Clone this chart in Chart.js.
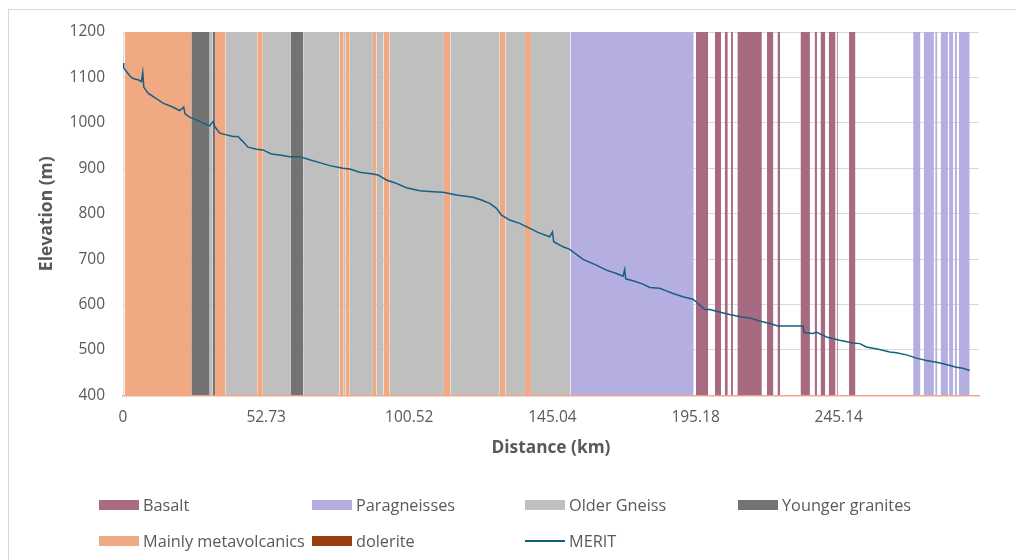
<!DOCTYPE html>
<html>
<head>
<meta charset="utf-8">
<title>Elevation profile with geology</title>
<script src="https://cdn.jsdelivr.net/npm/chart.js@4.4.1/dist/chart.umd.min.js"></script>
<style>
  html, body { margin: 0; padding: 0; background: #ffffff; }
  #wrap { position: relative; width: 1016px; height: 560px; overflow: hidden; font-family: "Open Sans", sans-serif; }
  #frame { position: absolute; left: 8px; top: 9px; width: 1100px; height: 700px; border: 1px solid #d9d9d9; box-sizing: border-box; }
  #chart { position: absolute; left: 0; top: 0; }
  .item { position: absolute; height: 20px; line-height: 20px; font-size: 16.3px; color: #595959; white-space: nowrap; }
  .sw { position: absolute; left: 0; top: 5px; width: 40px; height: 10px; }
  .ln { position: absolute; left: 0; top: 9px; width: 40px; height: 2px; }
  .tx { position: absolute; left: 44px; top: 0; }
</style>
</head>
<body>
<div id="wrap">
  <div id="frame"></div>
  <canvas id="chart" width="1016" height="560"></canvas>
  <div id="legend"></div>
</div>
<script>
// Distance axis: profile samples, labelled every 100 samples with distance in km
const xTickLabels = ['0', '52.73', '100.52', '145.04', '195.18', '245.14'];
const tickStep = 100;
const xMax = 598;

// Elevation axis (m)
const yMin = 400;
const yMax = 1200;
const yStep = 100;

// Geological units along the profile: [start sample, end sample]
const basalt = [[400.3, 408.8], [413.5, 417.8], [420.4, 422.5], [424.7, 426.1], [429.2, 446.3],
  [449.9, 454.4], [457.2, 459.1], [473.3, 479.9], [483.2, 484.8], [487.3, 490.6],
  [493.0, 497.8], [498.7, 499.4], [507.2, 511.7]];
const paragneisses = [[312.6, 398.7], [552.0, 557.1], [559.4, 566.5], [567.4, 568.9],
  [571.2, 576.3], [577.1, 580.0], [581.0, 582.6], [584.0, 591.5]];
const olderGneiss = [[60.6, 62.5], [71.7, 93.8], [97.7, 117.3], [126.1, 151.3], [154.2, 155.4],
  [158.4, 174.6], [177.2, 182.0], [186.3, 224.2], [228.7, 263.2], [267.2, 280.8], [285.0, 312.3]];
const youngerGranites = [[47.7, 60.6], [62.5, 64.3], [117.3, 126.1]];
const metavolcanics = [[1.2, 47.7], [64.3, 71.7], [93.8, 97.7], [151.3, 154.2], [155.4, 158.4],
  [174.6, 177.2], [182.0, 186.3], [224.2, 228.7], [263.2, 267.2], [280.8, 285.0]];
const dolerite = [];

// MERIT DEM elevation profile
const meritSample = [0, 0.5, 4.7, 7.0, 10.5, 12.9, 13.8, 14.5, 17.5, 23.3, 27.9, 33.8, 39.6, 42.4, 43.3,
  46.6, 51.3, 55.9, 60.6, 62.9, 64.1, 67.6, 72.2, 76.8, 80.3, 83.8, 87.3, 93.2, 97.8, 100.2,
  103.7, 109.5, 116.5, 123.4, 130.4, 137.4, 144.4, 153.7, 158.4, 165.4, 174.7, 178.1, 184.0,
  189.8, 198.0, 207.3, 216.6, 223.6, 232.9, 244.5, 250.4, 256.2, 260.9, 264.4, 270.2, 277.1,
  282.9, 289.9, 298.1, 300.0, 300.9, 307.4, 312.1, 321.4, 330.7, 337.7, 344.7, 349.3, 350.5,
  351.2, 356.3, 363.3, 368.0, 374.9, 379.6, 384.2, 391.2, 398.2, 401.7, 406.4, 409.9, 418.0,
  423.8, 432.0, 437.8, 444.8, 451.8, 457.6, 475.1, 475.8, 482.0, 484.4, 491.4, 500.7, 510.0,
  514.7, 519.3, 528.6, 535.6, 540.3, 547.3, 554.3, 561.3, 568.3, 575.2, 582.2, 586.8, 591.5];
const meritElev = [1131.6, 1120.6, 1103.6, 1097.7, 1094.8, 1091, 1110.9, 1078.7, 1065.5, 1053.6,
  1043.4, 1036, 1027.1, 1034.6, 1019.8, 1012.5, 1006.6, 999.3, 993.3, 1002.8, 991.8, 977.3,
  973.5, 969.8, 969.8, 958.7, 946.4, 942, 940.4, 936.7, 931.6, 929.4, 925.6, 925.6, 918.6,
  912.4, 905.8, 900, 898.5, 891.2, 887.5, 885.3, 874.2, 868.3, 857.3, 850.6, 848.4, 847, 841.2,
  836.1, 830.1, 822.8, 811.8, 797, 786, 778.7, 769.9, 758.9, 749.2, 760.2, 738.2, 727.1, 721.4,
  699.3, 686.8, 675.7, 668.4, 662.5, 677.2, 656.6, 652.2, 644.9, 637.6, 636, 630.2, 624.3, 617,
  611.8, 602.3, 589.1, 589.1, 582.4, 578, 572.8, 570.6, 564, 558.2, 553, 553, 538.3, 536.1,
  539.6, 528.6, 521.3, 515.4, 514, 506.6, 501.1, 495.5, 493.8, 489.2, 482, 476.8, 473.1, 468.1,
  462.1, 459.9, 454.8];

const units = [
  { name: 'Basalt', color: '#a86a80', spans: basalt },
  { name: 'Paragneisses', color: '#b4afe0', spans: paragneisses },
  { name: 'Older Gneiss', color: '#bfbfbf', spans: olderGneiss },
  { name: 'Younger granites', color: '#737373', spans: youngerGranites },
  { name: 'Mainly metavolcanics', color: '#f1a983', spans: metavolcanics },
  { name: 'dolerite', color: '#993e0e', spans: dolerite }
];
const meritColor = '#156082';

const textColor = '#595959';
const gridColor = '#d9d9d9';
Chart.defaults.font.family = '"Open Sans", sans-serif';
Chart.defaults.color = textColor;

// Each unit interval is a filled column from the axis floor to the top of the range
const datasets = [{
  label: 'MERIT',
  type: 'line',
  data: meritSample.map((x, i) => ({ x: x, y: meritElev[i] })),
  borderColor: meritColor,
  borderWidth: 1.5,
  pointRadius: 0,
  fill: false,
  tension: 0,
  order: 0
}];
units.forEach(u => {
  u.spans.forEach(s => {
    datasets.push({
      label: u.name,
      type: 'line',
      data: [{ x: s[0], y: yMax }, { x: s[1], y: yMax }],
      borderWidth: 0,
      borderColor: 'rgba(0,0,0,0)',
      backgroundColor: u.color,
      pointRadius: 0,
      fill: { value: yMin },
      order: 1
    });
  });
});

new Chart(document.getElementById('chart'), {
  type: 'line',
  data: { datasets: datasets },
  options: {
    responsive: false,
    animation: false,
    events: [],
    layout: { padding: { left: 37, right: 37, top: 32, bottom: 102 } },
    plugins: { legend: { display: false }, tooltip: { enabled: false } },
    scales: {
      x: {
        type: 'linear',
        min: 0,
        max: xMax,
        afterBuildTicks: s => { s.ticks = xTickLabels.map((_, i) => ({ value: i * tickStep })); },
        afterFit: s => { s.height = 62.6; },
        ticks: {
          autoSkip: false,
          maxRotation: 0,
          padding: 13,
          font: { size: 15.5 },
          color: textColor,
          callback: v => xTickLabels[Math.round(v / tickStep)]
        },
        grid: { display: false, drawTicks: false },
        border: { display: true, color: '#f1a983', width: 1.5 },
        title: {
          display: true,
          text: 'Distance (km)',
          color: textColor,
          font: { size: 17.3, weight: 'bold' },
          padding: { top: 0, bottom: 0 }
        }
      },
      y: {
        min: yMin,
        max: yMax,
        afterFit: s => { s.width = 86; },
        ticks: {
          stepSize: yStep,
          padding: 18,
          font: { size: 15.5 },
          color: textColor,
          callback: v => String(v)
        },
        grid: { color: gridColor, lineWidth: 1, drawTicks: false },
        border: { display: true, color: gridColor, width: 1 },
        title: {
          display: true,
          text: 'Elevation (m)',
          color: textColor,
          font: { size: 17.5, weight: 'bold' },
          padding: { top: 0, bottom: 0 }
        }
      }
    }
  }
});

// Legend laid out in a four-column grid
const legendSlots = [
  { name: 'Basalt', left: 99, top: 495 },
  { name: 'Paragneisses', left: 312, top: 495 },
  { name: 'Older Gneiss', left: 525, top: 495 },
  { name: 'Younger granites', left: 738, top: 495 },
  { name: 'Mainly metavolcanics', left: 99, top: 531 },
  { name: 'dolerite', left: 312, top: 531 },
  { name: 'MERIT', left: 525, top: 531 }
];
const legend = document.getElementById('legend');
legendSlots.forEach(slot => {
  const item = document.createElement('div');
  item.className = 'item';
  item.style.left = slot.left + 'px';
  item.style.top = slot.top + 'px';
  const mark = document.createElement('div');
  const unit = units.find(u => u.name === slot.name);
  if (unit) {
    mark.className = 'sw';
    mark.style.background = unit.color;
  } else {
    mark.className = 'ln';
    mark.style.background = meritColor;
  }
  const label = document.createElement('div');
  label.className = 'tx';
  label.textContent = slot.name;
  item.appendChild(mark);
  item.appendChild(label);
  legend.appendChild(item);
});
</script>
</body>
</html>
